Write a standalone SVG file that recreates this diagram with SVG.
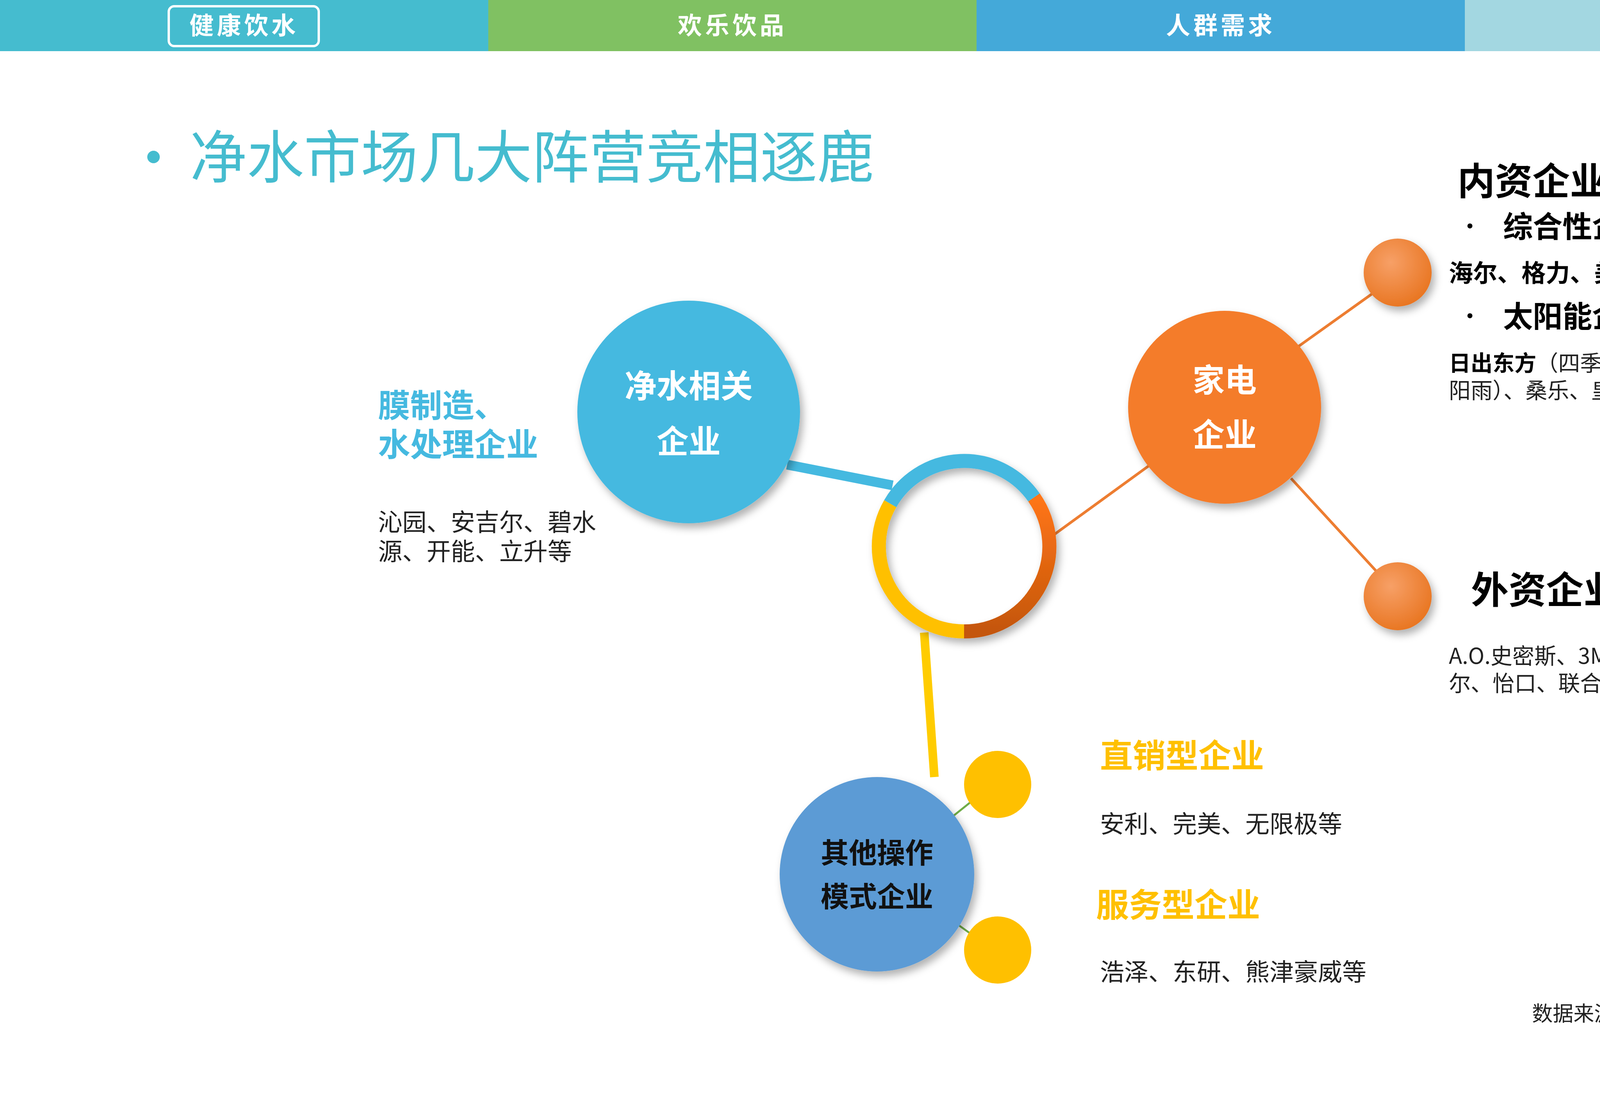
<svg xmlns="http://www.w3.org/2000/svg" width="5000" height="2812" viewBox="0 0 5000 2812">
<style>
text{font-family:"Noto Sans CJK SC","Liberation Sans",sans-serif}
.tab{fill:#fff;font-size:62px;font-weight:bold;text-anchor:middle;letter-spacing:8px}
.w{fill:#fff;font-weight:bold;font-size:82px;text-anchor:middle}
.d{fill:#222;font-size:62px}
.b{font-weight:bold}
.y{fill:#FFC000;font-weight:bold;font-size:84px}
</style>
<defs>
<linearGradient id="og" x1="0" y1="0" x2="0" y2="1"><stop offset="0" stop-color="#FF7518"/><stop offset="1" stop-color="#C4560A"/></linearGradient>
<radialGradient id="dot" cx="0.4" cy="0.35" r="0.7"><stop offset="0" stop-color="#F7A067"/><stop offset="1" stop-color="#E8741F"/></radialGradient>
<filter id="sh" x="-20%" y="-20%" width="150%" height="150%"><feDropShadow dx="8" dy="12" stdDeviation="10" flood-color="#000" flood-opacity="0.3"/></filter>
</defs>
<rect width="5000" height="2812" fill="#fff"/>
<g id="topbar">
<rect x="0" y="0" width="1250" height="131" fill="#45BCCF"/>
<rect x="1250" y="0" width="1250" height="131" fill="#80C162"/>
<rect x="2500" y="0" width="1250" height="131" fill="#44A9D9"/>
<rect x="3750" y="0" width="1250" height="131" fill="#A3D7E1"/>
<rect x="432" y="16" width="384" height="102" rx="14" fill="none" stroke="#fff" stroke-width="6"/>
<text class="tab" x="625" y="88">健康饮水</text>
<text class="tab" x="1875" y="88">欢乐饮品</text>
<text class="tab" x="3125" y="88">人群需求</text>
<text class="tab" x="4375" y="88">设计方向</text>
</g>
<g id="title">
<circle cx="393" cy="402" r="16" fill="#45BCCF"/>
<text x="486" y="455" font-size="146" fill="#45BCCF">净水市场几大阵营竞相逐鹿</text>
</g>
<g id="connectors">
<line x1="2015" y1="1190" x2="2285" y2="1243" stroke="#45B9E0" stroke-width="25"/>
<line x1="2700" y1="1368" x2="2945" y2="1190" stroke="#ED7D31" stroke-width="7"/>
<line x1="3320" y1="890" x2="3530" y2="740" stroke="#ED7D31" stroke-width="7"/>
<line x1="3305" y1="1225" x2="3530" y2="1470" stroke="#ED7D31" stroke-width="7"/>
<line x1="2366" y1="1620" x2="2392" y2="1990" stroke="#FFCC00" stroke-width="22"/>
<line x1="2440" y1="2090" x2="2490" y2="2050" stroke="#70AD47" stroke-width="5"/>
<line x1="2455" y1="2370" x2="2490" y2="2395" stroke="#70AD47" stroke-width="5"/>
</g>
<g id="ring" filter="url(#sh)" fill="none" stroke-width="36">
<path d="M2279 1290 A218 218 0 0 1 2647 1274" stroke="#45B9E0"/>
<path d="M2647 1274 A218 218 0 0 1 2468 1617" stroke="url(#og)"/>
<path d="M2468 1617 A218 218 0 0 1 2279 1290" stroke="#FFC000"/>
</g>
<g id="n-water">
<circle cx="1763" cy="1055" r="285" fill="#45B9E0" filter="url(#sh)"/>
<text class="w" x="1763" y="1018">净水相关</text>
<text class="w" x="1763" y="1160">企业</text>
<text x="968" y="1068" font-size="82" font-weight="bold" fill="#45B9E0">膜制造、</text>
<text x="968" y="1168" font-size="82" font-weight="bold" fill="#45B9E0">水处理企业</text>
<text class="d" x="968" y="1360">沁园、安吉尔、碧水</text>
<text class="d" x="968" y="1435">源、开能、立升等</text>
</g>
<g id="n-appliance">
<circle cx="3135" cy="1043" r="247" fill="#F47B2A" filter="url(#sh)"/>
<text class="w" x="3135" y="1003">家电</text>
<text class="w" x="3135" y="1143">企业</text>
</g>
<g id="n-domestic">
<circle cx="3578" cy="698" r="87" fill="url(#dot)" filter="url(#sh)"/>
<text x="3731" y="498" font-size="96" font-weight="bold" fill="#000">内资企业</text>
<text x="3733" y="602" font-size="60" fill="#000">•</text>
<text x="3848" y="608" font-size="76" font-weight="bold" fill="#000">综合性企业</text>
<text x="3709" y="722" font-size="62" fill="#000"><tspan class="b">海尔、格力、美的</tspan>等</text>
<text x="3733" y="832" font-size="60" fill="#000">•</text>
<text x="3848" y="838" font-size="76" font-weight="bold" fill="#000">太阳能企业</text>
<text x="3709" y="950" font-size="56" fill="#222"><tspan class="b" fill="#000">日出东方</tspan>（四季沐歌、太</text>
<text x="3709" y="1020" font-size="56" fill="#222">阳雨）、桑乐、皇明等</text>
</g>
<g id="n-foreign">
<circle cx="3578" cy="1527" r="87" fill="url(#dot)" filter="url(#sh)"/>
<text x="3766" y="1545" font-size="96" font-weight="bold" fill="#000">外资企业</text>
<text x="3709" y="1700" font-size="56" fill="#222">A.O.史密斯、3M、滨特</text>
<text x="3709" y="1770" font-size="56" fill="#222">尔、怡口、联合利华等</text>
</g>
<g id="n-other">
<circle cx="2245" cy="2239" r="249" fill="#5B9BD5" filter="url(#sh)"/>
<text x="2245" y="2210" font-size="72" font-weight="bold" fill="#111" text-anchor="middle">其他操作</text>
<text x="2245" y="2322" font-size="72" font-weight="bold" fill="#111" text-anchor="middle">模式企业</text>
</g>
<g id="n-direct">
<circle cx="2554" cy="2009" r="86" fill="#FFC000"/>
<text class="y" x="2816" y="1966">直销型企业</text>
<text class="d" x="2816" y="2133">安利、完美、无限极等</text>
</g>
<g id="n-service">
<circle cx="2554" cy="2433" r="86" fill="#FFC000"/>
<text class="y" x="2806" y="2348">服务型企业</text>
<text class="d" x="2816" y="2512">浩泽、东研、熊津豪威等</text>
</g>
<text x="3922" y="2615" font-size="53" fill="#222">数据来源：中怡康测算、线下监测</text>
</svg>
